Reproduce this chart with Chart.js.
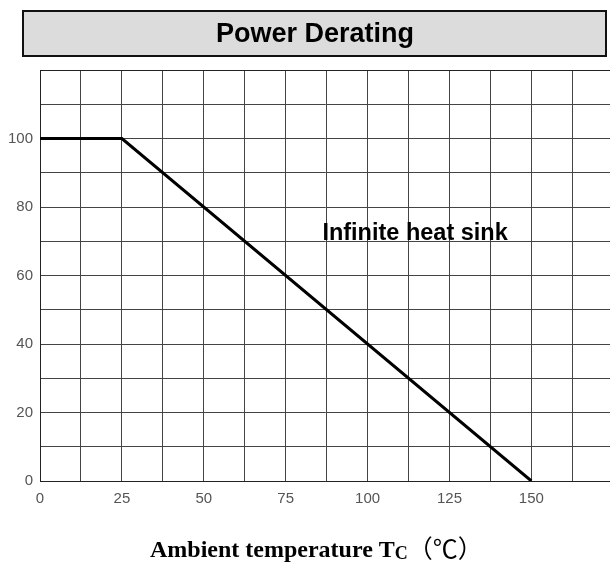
<!DOCTYPE html>
<html>
<head>
<meta charset="utf-8">
<script src="https://cdn.jsdelivr.net/npm/chart.js@4.4.1/dist/chart.umd.min.js"></script>
<style>
  html, body { margin: 0; padding: 0; background: #fff; }
  #wrap { width: 610px; height: 574px; }
</style>
</head>
<body>
<div id="wrap"><canvas id="grafico" width="610" height="574"></canvas></div>
<script>
// datos
const temperaturas = [0, 25, 150];
const potencia = [100, 100, 0];
const etiquetasX = [0, 25, 50, 75, 100, 125, 150];
const etiquetasY = [0, 20, 40, 60, 80, 100];
const rejillaX = [0, 12.5, 25, 37.5, 50, 62.5, 75, 87.5, 100, 112.5, 125, 137.5, 150, 162.5];

const tituloGrafico = "Power Derating";
const textoCurva = "Infinite heat sink";

const ctx = document.getElementById("grafico");

/* dibuja el recuadro del titulo, la nota y el titulo del eje */
const decoracion = {
  id: "decoracion",
  beforeDraw(chart) {
    const c = chart.ctx;
    c.save();
    c.fillStyle = "#ffffff";
    c.fillRect(0, 0, chart.width, chart.height);
    // recuadro del titulo
    c.fillStyle = "#dcdcdc";
    c.fillRect(23, 11, 583, 45);
    c.strokeStyle = "#111";
    c.lineWidth = 2;
    c.strokeRect(23, 11, 583, 45);
    c.fillStyle = "#000";
    c.font = "bold 27px 'Liberation Sans', Arial, sans-serif";
    c.textAlign = "center";
    c.textBaseline = "middle";
    c.fillText(tituloGrafico, 315, 35);
    c.restore();
  },
  afterDraw(chart) {
    const c = chart.ctx;
    const x = chart.scales.x, y = chart.scales.y;
    c.save();
    // linea superior del area
    c.strokeStyle = "#222";
    c.lineWidth = 1;
    c.beginPath();
    c.moveTo(chart.chartArea.left, chart.chartArea.top + 0.5);
    c.lineTo(chart.chartArea.right, chart.chartArea.top + 0.5);
    c.stroke();
    // nota sobre la curva
    c.fillStyle = "#000";
    c.font = "bold 23.5px 'Liberation Sans', Arial, sans-serif";
    c.textAlign = "left";
    c.textBaseline = "alphabetic";
    c.fillText(textoCurva, x.getPixelForValue(86.2), y.getPixelForValue(70) - 1);

    // titulo del eje x con subindice
    const f1 = "bold 24px 'Liberation Serif', 'Times New Roman', serif";
    const f2 = "bold 18px 'Liberation Serif', 'Times New Roman', serif";
    const f3 = "25px 'Noto Sans CJK SC', sans-serif";
    const p1 = "Ambient temperature T", p2 = "C", p3 = "（℃）";
    c.font = f1; const w1 = c.measureText(p1).width;
    c.font = f2; const w2 = c.measureText(p2).width;
    c.font = f3; const w3 = c.measureText(p3).width;
    let xi = 150;
    const base = 557;
    c.font = f1; c.fillText(p1, xi, base); xi += w1;
    c.font = f2; c.fillText(p2, xi, base + 2); xi += w2;
    c.font = f3; c.fillText(p3, xi, base + 1);
    c.restore();
  }
};

const data = {
  datasets: [{
    label: "Potencia",
    data: temperaturas.map((t, i) => ({ x: t, y: potencia[i] })),
    showLine: true,
    borderColor: "#000",
    borderWidth: 3,
    pointRadius: 0,
    tension: 0,
    fill: false
  }]
};

const config = {
  type: "scatter",
  data: data,
  options: {
    responsive: false,
    animation: false,
    layout: { padding: { top: 70, left: 0, right: 0, bottom: 0 } },
    plugins: {
      legend: false,
      tooltip: { enabled: false },
      title: { display: false }
    },
    scales: {
      x: {
        type: "linear",
        min: 0,
        max: 174,
        afterBuildTicks(scale) { scale.ticks = rejillaX.map(v => ({ value: v })); },
        afterFit(scale) { scale.height = 93; scale.paddingRight = 0; scale.paddingLeft = 0; },
        grid: { color: "#444", lineWidth: 1, drawTicks: false },
        border: { display: true, color: "#222", width: 1 },
        ticks: {
          padding: 9,
          maxRotation: 0,
          autoSkip: false,
          color: "#555",
          font: { family: "'Liberation Sans', Arial, sans-serif", size: 15 },
          callback: v => etiquetasX.includes(v) ? v : ""
        }
      },
      y: {
        min: 0,
        max: 120,
        afterFit(scale) { scale.width = 40; },
        grid: { color: "#444", lineWidth: 1, drawTicks: false },
        border: { display: true, color: "#222", width: 1 },
        ticks: {
          stepSize: 10,
          padding: 7,
          autoSkip: false,
          color: "#555",
          font: { family: "'Liberation Sans', Arial, sans-serif", size: 15 },
          callback: v => etiquetasY.includes(v) ? v : ""
        }
      }
    }
  },
  plugins: [decoracion]
};

const myChart = new Chart(ctx, config);
</script>
</body>
</html>
